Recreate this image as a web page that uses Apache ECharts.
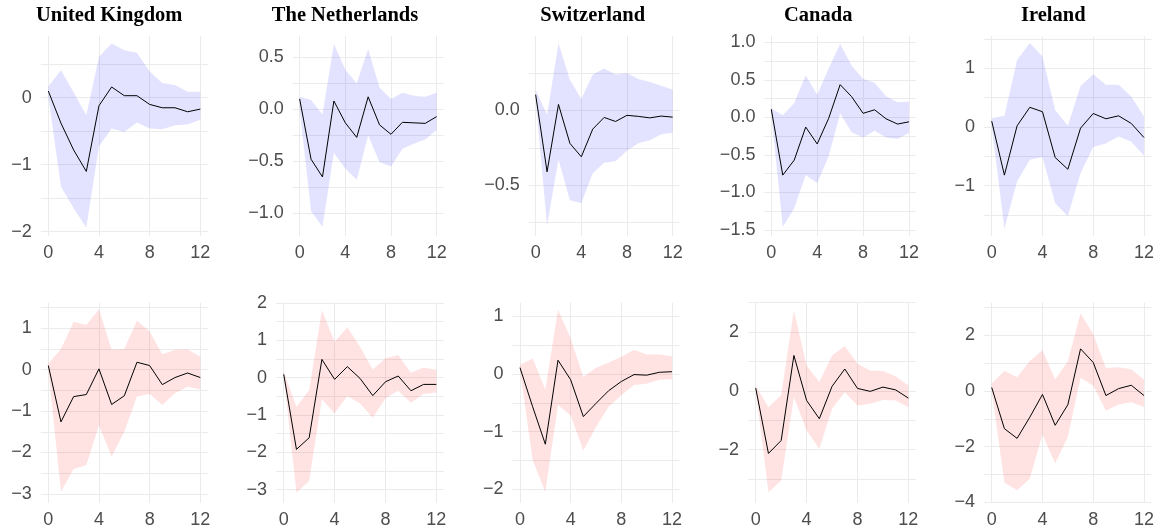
<!DOCTYPE html>
<html>
<head>
<meta charset="utf-8">
<script src="https://cdn.jsdelivr.net/npm/echarts@6/dist/echarts.min.js"></script>
<style>html,body{margin:0;padding:0;background:#fff}#c{width:1164px;height:529px}</style>
</head>
<body>
<div id="c"></div>
<script>
// ---------------- DATA ----------------
const horizons = [0,1,2,3,4,5,6,7,8,9,10,11,12];
const countries = ['United Kingdom','The Netherlands','Switzerland','Canada','Ireland'];
const xTickValues = [0,4,8,12];

// Top row (blue bands)
const ukTopIrf = [0.10,-0.38,-0.78,-1.10,-0.12,0.16,0.03,0.03,-0.10,-0.15,-0.15,-0.21,-0.17];
const ukTopLo  = [0.02,-1.33,-1.65,-1.94,-0.73,-0.46,-0.51,-0.37,-0.46,-0.47,-0.41,-0.40,-0.33];
const ukTopHi  = [0.17,0.41,0.08,-0.26,0.61,0.81,0.71,0.67,0.39,0.22,0.19,0.09,0.09];

const nlTopIrf = [0.10,-0.48,-0.65,0.08,-0.13,-0.27,0.12,-0.15,-0.24,-0.125,-0.13,-0.135,-0.07];
const nlTopLo  = [0.00,-0.98,-1.13,-0.42,-0.57,-0.68,-0.25,-0.51,-0.55,-0.38,-0.33,-0.29,-0.20];
const nlTopHi  = [0.12,0.09,-0.05,0.63,0.38,0.25,0.58,0.21,0.10,0.16,0.13,0.12,0.16];

const chTopIrf = [0.105,-0.41,0.04,-0.22,-0.31,-0.125,-0.047,-0.074,-0.033,-0.04,-0.05,-0.038,-0.045];
const chTopLo  = [0.07,-0.77,-0.33,-0.60,-0.62,-0.42,-0.35,-0.34,-0.27,-0.22,-0.20,-0.16,-0.15];
const chTopHi  = [0.14,-0.03,0.45,0.205,0.076,0.24,0.28,0.24,0.25,0.21,0.19,0.165,0.14];

const caTopIrf = [0.107,-0.77,-0.57,-0.13,-0.355,-0.013,0.435,0.275,0.053,0.10,-0.02,-0.09,-0.06];
const caTopLo  = [0.05,-1.46,-1.21,-0.77,-0.88,-0.52,0.05,-0.20,-0.27,-0.18,-0.27,-0.29,-0.21];
const caTopHi  = [0.12,0.027,0.19,0.56,0.30,0.65,0.98,0.69,0.51,0.46,0.28,0.20,0.21];

const ieTopIrf = [0.10,-0.82,0.02,0.335,0.26,-0.52,-0.72,-0.02,0.23,0.14,0.19,0.06,-0.18];
const ieTopLo  = [0.00,-1.73,-0.93,-0.56,-0.51,-1.30,-1.52,-0.79,-0.34,-0.28,-0.16,-0.25,-0.49];
const ieTopHi  = [0.15,0.19,1.14,1.43,1.20,0.29,0.02,0.70,0.90,0.72,0.72,0.52,0.18];

// Bottom row (red bands)
const ukBotIrf = [0.10,-1.26,-0.65,-0.60,0.02,-0.84,-0.63,0.18,0.10,-0.36,-0.19,-0.08,-0.19];
const ukBotLo  = [0.00,-2.95,-2.40,-2.31,-1.34,-2.10,-1.50,-0.65,-0.59,-0.85,-0.57,-0.41,-0.48];
const ukBotHi  = [0.15,0.50,1.16,1.08,1.46,0.48,0.50,1.19,0.92,0.37,0.48,0.49,0.31];

const nlBotIrf = [0.09,-1.92,-1.61,0.49,-0.045,0.295,-0.02,-0.48,-0.11,0.045,-0.35,-0.18,-0.18];
const nlBotLo  = [0.04,-3.08,-2.77,-0.58,-0.96,-0.49,-0.69,-1.07,-0.55,-0.35,-0.67,-0.44,-0.40];
const nlBotHi  = [0.16,-0.78,-0.33,1.81,0.96,1.35,0.83,0.22,0.52,0.61,0.13,0.27,0.21];

const chBotIrf = [0.11,-0.57,-1.22,0.24,-0.10,-0.74,-0.51,-0.29,-0.13,-0.01,-0.02,0.03,0.04];
const chBotLo  = [0.07,-1.50,-2.05,-0.54,-0.72,-1.33,-0.92,-0.57,-0.37,-0.19,-0.17,-0.10,-0.09];
const chBotHi  = [0.16,0.27,-0.27,1.12,0.62,-0.05,0.11,0.20,0.30,0.42,0.34,0.34,0.31];

const caBotIrf = [0.09,-2.13,-1.69,1.20,-0.33,-0.95,0.15,0.74,0.08,-0.02,0.125,0.03,-0.25];
const caBotLo  = [0.00,-3.45,-3.06,-0.22,-1.35,-1.98,-0.61,-0.05,-0.50,-0.44,-0.31,-0.33,-0.56];
const caBotHi  = [0.18,-0.56,-0.14,2.74,0.86,0.30,1.20,1.52,0.92,0.69,0.67,0.49,0.18];

const ieBotIrf = [0.13,-1.35,-1.70,-0.94,-0.12,-1.23,-0.49,1.52,1.03,-0.16,0.09,0.21,-0.16];
const ieBotLo  = [0.00,-3.30,-3.57,-3.15,-1.56,-2.60,-1.65,0.48,0.19,-0.71,-0.48,-0.40,-0.57];
const ieBotHi  = [0.27,0.73,0.50,1.08,1.47,0.42,1.08,2.80,2.05,0.83,0.86,0.79,0.42];

// Y tick labels (major) and minor grid values
const ukTopYTicks = [-2,-1,0];              const ukTopYMinor = [-1.5,-0.5,0.5];
const nlTopYTicks = [-1,-0.5,0,0.5];        const nlTopYMinor = [-0.75,-0.25,0.25];
const chTopYTicks = [-0.5,0];               const chTopYMinor = [-0.75,-0.25,0.25];
const caTopYTicks = [-1.5,-1,-0.5,0,0.5,1]; const caTopYMinor = [-1.25,-0.75,-0.25,0.25,0.75];
const ieTopYTicks = [-1,0,1];               const ieTopYMinor = [-1.5,-0.5,0.5,1.5];
const ukBotYTicks = [-3,-2,-1,0,1];         const ukBotYMinor = [-2.5,-1.5,-0.5,0.5,1.5];
const nlBotYTicks = [-3,-2,-1,0,1,2];       const nlBotYMinor = [-2.5,-1.5,-0.5,0.5,1.5];
const chBotYTicks = [-2,-1,0,1];            const chBotYMinor = [-1.5,-0.5,0.5];
const caBotYTicks = [-2,0,2];               const caBotYMinor = [-3,-1,1,3];
const ieBotYTicks = [-4,-2,0,2];            const ieBotYMinor = [-3,-1,1,3];

// ---------------- LAYOUT ----------------
const BLUE = 'rgba(0,0,255,0.11)';
const RED = 'rgba(255,0,0,0.11)';
const TOP_Y = 36, TOP_H = 200, BOT_Y = 302.5, BOT_H = 200.5;

const panels = [
  {irf:ukTopIrf, lo:ukTopLo, hi:ukTopHi, ticks:ukTopYTicks, minor:ukTopYMinor, dec:0, fill:BLUE, left:40.7,  width:167.2, top:TOP_Y, height:TOP_H, min:-2.064, max:0.921},
  {irf:nlTopIrf, lo:nlTopLo, hi:nlTopHi, ticks:nlTopYTicks, minor:nlTopYMinor, dec:1, fill:BLUE, left:292.8, width:150.7, top:TOP_Y, height:TOP_H, min:-1.218, max:0.705},
  {irf:chTopIrf, lo:chTopLo, hi:chTopHi, ticks:chTopYTicks, minor:chTopYMinor, dec:1, fill:BLUE, left:528.8, width:150.7, top:TOP_Y, height:TOP_H, min:-0.839, max:0.497},
  {irf:caTopIrf, lo:caTopLo, hi:caTopHi, ticks:caTopYTicks, minor:caTopYMinor, dec:1, fill:BLUE, left:764.4, width:151.5, top:TOP_Y, height:TOP_H, min:-1.581, max:1.083},
  {irf:ieTopIrf, lo:ieTopLo, hi:ieTopHi, ticks:ieTopYTicks, minor:ieTopYMinor, dec:0, fill:BLUE, left:984.1, width:167.5, top:TOP_Y, height:TOP_H, min:-1.857, max:1.55},
  {irf:ukBotIrf, lo:ukBotLo, hi:ukBotHi, ticks:ukBotYTicks, minor:ukBotYMinor, dec:0, fill:RED, left:40.7,  width:167.2, top:BOT_Y, height:BOT_H, min:-3.22,  max:1.623},
  {irf:nlBotIrf, lo:nlBotLo, hi:nlBotHi, ticks:nlBotYTicks, minor:nlBotYMinor, dec:0, fill:RED, left:276.1, width:167.9, top:BOT_Y, height:BOT_H, min:-3.357, max:2.014},
  {irf:chBotIrf, lo:chBotLo, hi:chBotHi, ticks:chBotYTicks, minor:chBotYMinor, dec:0, fill:RED, left:512.4, width:167.2, top:BOT_Y, height:BOT_H, min:-2.242, max:1.243},
  {irf:caBotIrf, lo:caBotLo, hi:caBotHi, ticks:caBotYTicks, minor:caBotYMinor, dec:0, fill:RED, left:748.1, width:167.9, top:BOT_Y, height:BOT_H, min:-3.814, max:3.0},
  {irf:ieBotIrf, lo:ieBotLo, hi:ieBotHi, ticks:ieBotYTicks, minor:ieBotYMinor, dec:0, fill:RED, left:984.1, width:167.5, top:BOT_Y, height:BOT_H, min:-4.025, max:3.187}
];
const titleCenters = [109.2, 345, 592.7, 818.2, 1053.3];

const LABEL_COLOR = '#4d4d4d';
const GRID_COLOR = '#ebebeb';
const LABEL_FONT = 'Liberation Sans, Arial, sans-serif';

const grid = [], xAxis = [], yAxis = [], series = [];
panels.forEach((p, i) => {
  grid.push({left:p.left, top:p.top, width:p.width, height:p.height, containLabel:false});
  xAxis.push({
    type:'value', gridIndex:i, min:-0.6, max:12.6,
    axisLine:{show:false},
    axisTick:{show:false, customValues:xTickValues},
    axisLabel:{customValues:xTickValues, color:LABEL_COLOR, fontSize:18, fontFamily:LABEL_FONT, margin:8},
    splitLine:{show:true, lineStyle:{color:GRID_COLOR, width:1}}
  });
  const all = p.ticks.concat(p.minor.filter(v => v >= p.min && v <= p.max)).sort((a,b)=>a-b);
  const dec = p.dec;
  yAxis.push({
    type:'value', gridIndex:i, min:p.min, max:p.max,
    axisLine:{show:false},
    axisTick:{show:false, customValues:all},
    axisLabel:{customValues:p.ticks, color:LABEL_COLOR, fontSize:18, fontFamily:LABEL_FONT, margin:9,
      formatter: v => (v < -1e-9 ? '\u2212' : '') + Math.abs(v).toFixed(dec)},
    splitLine:{show:true, lineStyle:{color:GRID_COLOR, width:1}}
  });
  const bandData = horizons.map((h, k) => [h, p.lo[k], p.hi[k]]);
  series.push({
    type:'custom', xAxisIndex:i, yAxisIndex:i, silent:true,
    encode:{x:0, y:[1,2]},
    data:bandData,
    renderItem:(params, api) => {
      if (params.dataIndex !== 0) return null;
      const pts = [];
      for (let k = 0; k < bandData.length; k++) pts.push(api.coord([bandData[k][0], bandData[k][2]]));
      for (let k = bandData.length - 1; k >= 0; k--) pts.push(api.coord([bandData[k][0], bandData[k][1]]));
      return {type:'polygon', shape:{points:pts}, style:{fill:p.fill}};
    },
    z:2
  });
  series.push({
    type:'line', xAxisIndex:i, yAxisIndex:i, silent:true,
    data:horizons.map((h, k) => [h, p.irf[k]]),
    symbol:'none', lineStyle:{color:'#000', width:1}, z:3, animation:false
  });
});

const graphic = countries.map((name, i) => ({
  type:'text', x:titleCenters[i], y:16,
  style:{text:name, fill:'#000', font:'bold 20.5px "Liberation Serif", "Times New Roman", serif',
    textAlign:'center', textVerticalAlign:'middle'}
}));

const chart = echarts.init(document.getElementById('c'), null, {renderer:'canvas'});
chart.setOption({animation:false, backgroundColor:'#fff', grid, xAxis, yAxis, series, graphic});
</script>
</body>
</html>
